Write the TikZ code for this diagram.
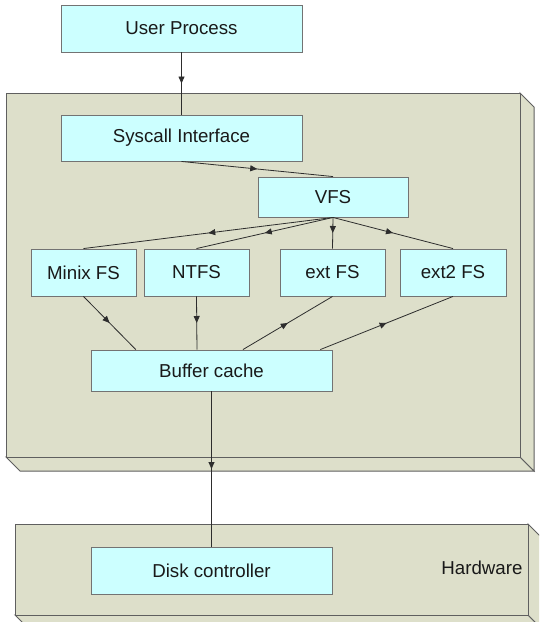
\documentclass[tikz,border=0pt]{standalone}
\usepackage{fontspec}
\setmainfont{Liberation Sans}
\usetikzlibrary{arrows.meta,decorations.markings,calc}
\definecolor{boxfill}{RGB}{204,255,255}
\definecolor{boxline}{RGB}{115,115,115}
\definecolor{blockfill}{RGB}{221,223,202}
\definecolor{blockline}{RGB}{95,95,95}
\definecolor{wireline}{RGB}{45,45,45}
\tikzset{
  fsbox/.style={draw=boxline, fill=boxfill, line width=0.9pt, inner sep=0pt,
    font=\fontsize{18.7}{22}\selectfont, text=black!90},
  blockface/.style={draw=blockline, fill=blockfill, line width=1pt, line join=miter},
  midarrow/.style={draw=wireline, line width=0.8pt, postaction={decorate},
    decoration={markings, mark=at position 0.5 with {\arrow{Triangle[length=7pt,width=6pt]}}}},
  midarrowrev/.style={draw=wireline, line width=0.8pt, postaction={decorate},
    decoration={markings, mark=at position 0.5 with {\arrowreversed{Triangle[length=7pt,width=6pt]}}}},
}
\begin{document}
\begin{tikzpicture}[x=1pt,y=-1pt]
\useasboundingbox (0,0) rectangle (539,622);
\begin{scope}
\clip (0,0) rectangle (539,622);
% kernel block
\path[blockface] (6,457) -- (20,471) -- (534,471) -- (520,457) -- cycle;
\path[blockface] (520,93) -- (534,107) -- (534,471) -- (520,457) -- cycle;
\path[blockface] (6,93) rectangle (520,457);
% hardware block
\path[blockface] (15,615) -- (29,629) -- (542,629) -- (528,615) -- cycle;
\path[blockface] (528,524) -- (542,538) -- (542,629) -- (528,615) -- cycle;
\path[blockface] (15,524) rectangle (528,615);
\end{scope}

\node[fsbox, minimum width=241pt, minimum height=47pt] (user) at (181.5,28.5) {User Process};
\node[fsbox, minimum width=241pt, minimum height=46pt] (sys) at (181.5,138) {Syscall Interface};
\node[fsbox, minimum width=150pt, minimum height=40pt] (vfs) at (333,197) {VFS};
\node[fsbox, minimum width=105pt, minimum height=47pt] (minix) at (83.5,272.5) {Minix FS};
\node[fsbox, minimum width=105pt, minimum height=47pt] (ntfs) at (196.5,272.5) {NTFS};
\node[fsbox, minimum width=105pt, minimum height=47pt] (ext) at (332.5,272.5) {ext FS};
\node[fsbox, minimum width=106pt, minimum height=47pt] (ext2) at (453,272.5) {ext2 FS};
\node[fsbox, minimum width=241pt, minimum height=41pt] (buf) at (211.5,370.5) {Buffer cache};
\node[fsbox, minimum width=241pt, minimum height=47pt] (disk) at (211.5,570.5) {Disk controller};
\node[font=\fontsize{18.7}{22}\selectfont, text=black!90] (hw) at (482,568) {Hardware};

\draw[midarrow] (user.south) -- (sys.north);
\draw[midarrow] (sys.south) -- (vfs.north);
\draw[midarrow] (vfs.south) -- (minix.north);
\draw[midarrow] (vfs.south) -- (ntfs.north);
\draw[midarrow] (vfs.south) -- (ext.north);
\draw[midarrow] (vfs.south) -- (ext2.north);
\draw[midarrow] (minix.south) -- ($(buf.north west)!0.187!(buf.north east)$);
\draw[midarrow] (ntfs.south) -- ($(buf.north west)!0.44!(buf.north east)$);
\draw[midarrowrev] (ext.south) -- ($(buf.north west)!0.63!(buf.north east)$);
\draw[midarrowrev] (ext2.south) -- ($(buf.north west)!0.95!(buf.north east)$);
\draw[midarrow] (buf.south) -- (disk.north);
\end{tikzpicture}
\end{document}
